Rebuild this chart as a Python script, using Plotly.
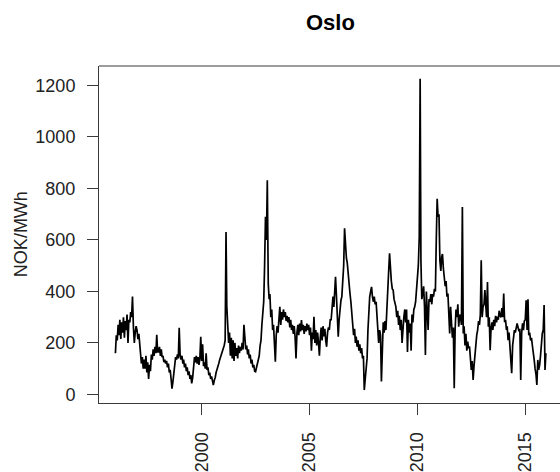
import plotly.graph_objects as go

# Oslo area electricity price, NOK/MWh, sampled on the 1st and 16th of each month
p1996 = [160, 230, 210, 270, 230, 290, 215, 280, 240, 300, 220, 285,
         250, 310, 200, 290, 280, 320, 300, 380, 260, 200, 240, 265]
p1997 = [250, 215, 235, 180, 160, 120, 145, 100, 135, 100, 150, 85,
         125, 60, 115, 90, 155, 135, 175, 150, 185, 160, 232, 165]
p1998 = [165, 185, 150, 175, 145, 150, 125, 135, 120, 130, 105, 120,
         85, 95, 60, 22, 50, 90, 110, 145, 135, 155, 140, 259]
p1999 = [150, 135, 150, 120, 135, 105, 120, 90, 105, 75, 90, 60,
         75, 43, 65, 95, 145, 125, 150, 120, 145, 115, 140, 224]
p2000 = [130, 195, 110, 125, 100, 160, 95, 105, 75, 85, 60, 70,
         45, 36, 55, 65, 85, 95, 110, 120, 135, 145, 155, 170]
p2001 = [175, 190, 210, 631, 341, 230, 200, 240, 150, 220, 140, 210,
         130, 200, 150, 180, 140, 190, 160, 185, 170, 200, 175, 270]
p2002 = [200, 175, 190, 155, 175, 140, 155, 120, 135, 105, 115, 90,
         88, 105, 115, 140, 150, 190, 210, 270, 320, 360, 500, 690]
p2003 = [600, 832, 430, 370, 390, 300, 330, 250, 270, 190, 127, 230,
         265, 240, 290, 340, 270, 320, 290, 330, 300, 320, 285, 305]
p2004 = [280, 300, 260, 290, 250, 270, 235, 265, 220, 140, 240, 270,
         230, 275, 245, 289, 250, 270, 235, 265, 245, 275, 250, 270]
p2005 = [230, 260, 170, 240, 215, 302, 200, 250, 190, 240, 200, 150,
         220, 260, 210, 265, 225, 255, 210, 185, 240, 260, 250, 290]
p2006 = [290, 340, 380, 340, 420, 457, 380, 320, 224, 290, 340, 366,
         380, 430, 500, 645, 570, 530, 510, 460, 440, 392, 360, 310]
p2007 = [280, 230, 255, 200, 225, 185, 210, 170, 195, 160, 180, 140,
         150, 17, 60, 110, 140, 250, 330, 380, 400, 418, 380, 360]
p2008 = [380, 350, 360, 290, 270, 200, 250, 230, 50, 180, 280, 240,
         285, 250, 350, 420, 480, 548, 460, 440, 410, 405, 370, 350]
p2009 = [340, 300, 325, 270, 305, 250, 290, 200, 280, 300, 330, 280,
         330, 165, 290, 240, 275, 170, 310, 280, 330, 340, 360, 405]
p2010 = [420, 500, 612, 1226, 520, 370, 392, 420, 340, 153, 400, 340,
         250, 370, 360, 390, 350, 390, 380, 410, 400, 600, 760, 690]
p2011 = [700, 520, 480, 535, 545, 490, 457, 420, 440, 380, 392, 330,
         237, 340, 280, 220, 260, 24, 250, 330, 300, 350, 263, 310]
p2012 = [300, 270, 728, 237, 265, 190, 235, 170, 205, 180, 186, 140,
         95, 130, 56, 110, 165, 180, 230, 250, 285, 270, 310, 521]
p2013 = [300, 340, 350, 405, 320, 300, 437, 263, 300, 172, 260, 280,
         250, 290, 265, 305, 280, 302, 290, 325, 305, 300, 335, 300]
p2014 = [392, 280, 290, 250, 265, 211, 240, 180, 155, 82, 190, 224,
         250, 240, 270, 276, 260, 245, 255, 56, 240, 276, 250, 285]
p2015 = [290, 366, 250, 370, 230, 240, 210, 220, 190, 170, 134, 100,
         80, 37, 134, 95, 115, 150, 210, 237, 250, 347, 95, 160]

years = list(range(1996, 2016))
by_year = [p1996, p1997, p1998, p1999, p2000, p2001, p2002, p2003, p2004, p2005,
           p2006, p2007, p2008, p2009, p2010, p2011, p2012, p2013, p2014, p2015]

dates = [f"{y}-{m:02d}-{d:02d}" for y in years for m in range(1, 13) for d in (1, 16)]
prices = [v for yr in by_year for v in yr]

tick_years = ["2000", "2005", "2010", "2015"]
y_ticks = [0, 200, 400, 600, 800, 1000, 1200]

FONT = "Liberation Sans, Arial, Helvetica, sans-serif"
AXIS_COLOR = "#3a3a3a"

fig = go.Figure()
fig.add_trace(go.Scatter(
    x=dates, y=prices, mode="lines",
    line=dict(color="black", width=1.7),
    hoverinfo="skip", showlegend=False,
))

fig.update_layout(
    width=560, height=472,
    margin=dict(l=99, r=0, t=66, b=69),
    paper_bgcolor="white", plot_bgcolor="white",
    font=dict(family=FONT, size=18, color="#222"),
    xaxis=dict(
        type="date",
        range=["1995-03-29", "2016-08-11"],
        tickvals=[f"{t}-01-01" for t in tick_years],
        ticktext=tick_years,
        tickangle=-90,
        ticks="outside", ticklen=11, tickwidth=1, tickcolor=AXIS_COLOR,
        showline=True, linecolor=AXIS_COLOR, linewidth=1,
        showgrid=False, zeroline=False,
        ticklabelstandoff=10,
    ),
    yaxis=dict(
        range=[-33.3, 1275.5],
        tickvals=y_ticks,
        ticks="outside", ticklen=11, tickwidth=1, tickcolor=AXIS_COLOR,
        showline=True, linecolor=AXIS_COLOR, linewidth=1,
        showgrid=False, zeroline=False,
        ticklabelstandoff=8,
    ),
    shapes=[dict(type="line", xref="paper", yref="paper", x0=0, x1=1, y0=1, y1=1,
                 line=dict(color=AXIS_COLOR, width=1))],
    annotations=[
        dict(text="Oslo", xref="paper", yref="paper", x=0.503, y=1.128,
             xanchor="center", yanchor="middle", showarrow=False,
             font=dict(family=FONT, size=22, color="black", weight="bold")),
        dict(text="NOK/MWh", xref="paper", yref="paper", x=-0.17, y=0.5,
             xanchor="center", yanchor="middle", textangle=-90, showarrow=False,
             font=dict(family=FONT, size=18, color="#222")),
    ],
)

fig.write_html("out.html")
